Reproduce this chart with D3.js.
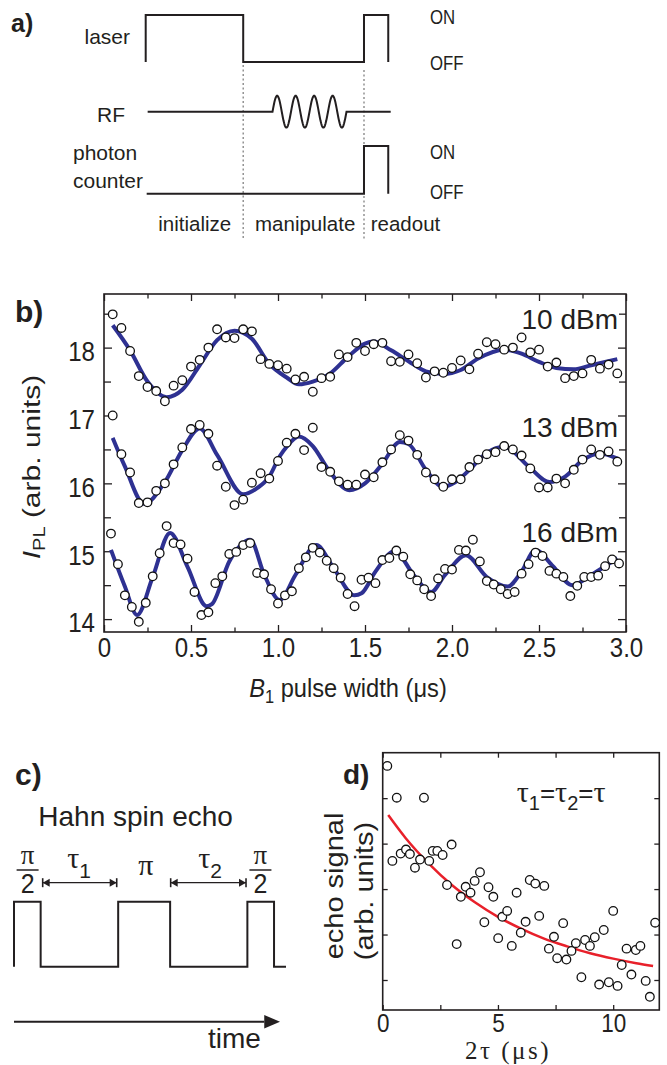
<!DOCTYPE html>
<html>
<head>
<meta charset="utf-8">
<script src="https://cdn.jsdelivr.net/npm/d3@7"></script>
<style>
  body { margin: 0; background: #fff; }
  text { font-family: Arial, "Liberation Sans", Helvetica, sans-serif; fill: #231f20; }
</style>
</head>
<body>
<script>
// ---------- panel b : Rabi oscillations ----------
var powerLabels = ['10 dBm', '13 dBm', '16 dBm'];

// pulse widths (us) of the 10 and 13 dBm runs
var pw50 = [0.05,0.1,0.15,0.2,0.25,0.3,0.35,0.4,0.45,0.5,0.55,0.6,0.65,0.7,0.75,0.8,0.85,0.9,0.95,1,
            1.05,1.1,1.15,1.2,1.25,1.3,1.35,1.4,1.45,1.5,1.55,1.6,1.65,1.7,1.75,1.8,1.85,1.9,1.95,2,
            2.05,2.1,2.15,2.2,2.25,2.3,2.35,2.4,2.45,2.5,2.55,2.6,2.65,2.7,2.75,2.8,2.85,2.9,2.95];
// pulse widths (us) of the 16 dBm run
var pw40 = [0.04,0.08,0.12,0.16,0.2,0.24,0.28,0.32,0.36,0.4,0.44,0.48,0.52,0.56,0.6,0.64,0.68,0.72,0.76,0.8,
            0.84,0.88,0.92,0.96,1,1.04,1.08,1.12,1.16,1.2,1.24,1.28,1.32,1.36,1.4,1.44,1.48,1.52,1.56,1.6,
            1.64,1.68,1.72,1.76,1.8,1.84,1.88,1.92,1.96,2,2.04,2.08,2.12,2.16,2.2,2.24,2.28,2.32,2.36,2.4,
            2.44,2.48,2.52,2.56,2.6,2.64,2.68,2.72,2.76,2.8,2.84,2.88,2.92,2.96];

var pl10 = [18.49,18.29,17.95,17.58,17.42,17.36,17.21,17.44,17.52,17.72,17.82,18.00,18.27,18.15,18.14,18.27,18.24,17.83,17.76,17.74,
            17.69,17.53,17.57,17.35,17.55,17.57,17.90,17.86,18.07,17.95,18.05,18.07,17.80,17.79,17.90,17.77,17.56,17.65,17.63,17.70,
            17.81,17.68,17.91,18.08,18.05,17.97,18.00,18.15,17.93,17.97,17.72,17.78,17.55,17.58,17.62,17.82,17.69,17.75,17.62];
var pl13 = [17.00,16.43,16.16,15.71,15.72,15.89,16.00,16.28,16.53,16.80,16.86,16.73,16.26,15.95,15.68,15.76,16.01,16.15,16.07,16.33,
            16.60,16.73,16.49,16.82,16.24,16.17,16.03,15.98,15.98,16.13,16.09,16.31,16.50,16.71,16.63,16.42,16.16,16.06,15.95,16.06,
            16.06,16.24,16.35,16.43,16.46,16.55,16.50,16.41,16.22,15.94,15.94,16.07,16.00,16.20,16.35,16.50,16.42,16.47,16.32];
var pl16 = [15.26,14.81,14.35,14.18,13.96,14.24,14.63,14.97,15.37,15.12,15.10,14.89,14.40,14.06,14.10,14.53,14.63,14.96,14.99,15.09,
            15.12,14.68,14.66,14.44,14.23,14.35,14.41,14.75,14.91,15.05,14.98,14.86,14.75,14.61,14.37,14.19,14.58,14.61,14.53,14.87,
            14.90,15.01,14.92,14.66,14.57,14.44,14.34,14.60,14.74,14.73,15.02,15.01,15.17,14.85,14.56,14.51,14.44,14.37,14.40,14.67,
            14.81,14.98,14.93,14.71,14.67,14.62,14.34,14.49,14.62,14.62,14.64,14.78,14.88,14.82];

// fitted curves
var fitX10 = [0.05,0.15,0.25,0.36,0.45,0.55,0.65,0.75,0.85,0.95,1.05,1.12,1.2,1.3,1.4,1.5,1.55,1.65,1.75,1.85,1.95,2.05,2.15,2.3,2.4,2.5,2.6,2.7,2.8,2.95];
var fitY10 = [18.33,17.96,17.50,17.27,17.38,17.74,18.11,18.25,18.13,17.76,17.56,17.46,17.50,17.62,17.86,18.06,18.09,17.96,17.80,17.65,17.61,17.67,17.84,17.97,17.91,17.79,17.70,17.68,17.74,17.83];
var fitX13 = [0.05,0.12,0.23,0.35,0.45,0.55,0.65,0.8,0.88,0.95,1.01,1.05,1.12,1.2,1.29,1.41,1.5,1.6,1.7,1.75,1.85,1.95,2.02,2.1,2.2,2.3,2.44,2.56,2.65,2.75,2.85,2.955];
var fitY13 = [16.67,16.25,15.70,16.02,16.49,16.81,16.42,15.84,15.93,16.10,16.40,16.54,16.69,16.55,16.20,15.90,16.00,16.29,16.61,16.58,16.20,15.95,16.02,16.20,16.45,16.54,16.25,16.02,16.10,16.34,16.44,16.36];
var fitX16 = [0.04,0.12,0.19,0.28,0.38,0.48,0.59,0.62,0.72,0.84,0.92,1.01,1.1,1.22,1.32,1.44,1.48,1.56,1.67,1.78,1.88,1.96,2.08,2.2,2.32,2.4,2.48,2.58,2.69,2.8,2.95];
var fitY16 = [15.02,14.48,14.06,14.62,15.27,14.77,14.19,14.22,14.85,15.17,14.66,14.28,14.65,15.09,14.75,14.35,14.38,14.70,15.00,14.65,14.40,14.65,14.94,14.62,14.48,14.70,15.02,14.78,14.50,14.65,14.90];

var bXTicks = [0, 0.5, 1, 1.5, 2, 2.5, 3];
var bXMinor = [0.25, 0.75, 1.25, 1.75, 2.25, 2.75];
var bYTicks = [14, 15, 16, 17, 18];
var bYMinor = [14.5, 15.5, 16.5, 17.5, 18.5];

// ---------- panel d : spin echo decay ----------
var echoX = [0.20,0.42,0.61,0.78,1.01,1.18,1.40,1.62,1.79,2.02,2.17,2.37,2.60,2.79,2.99,3.21,3.39,3.60,3.81,3.99,
             4.22,4.41,4.59,4.80,5.01,5.19,5.40,5.60,5.81,5.99,6.20,6.38,6.62,6.79,7.01,7.21,7.43,7.57,7.83,7.97,
             8.19,8.38,8.62,8.78,8.99,9.20,9.39,9.59,9.81,10.00,10.19,10.37,10.58,10.79,10.98,11.18,11.41,11.59,11.82];
var echoY = [5.71,3.62,5.01,3.78,3.87,3.77,3.47,3.65,5.01,3.62,3.84,3.84,3.75,3.09,3.98,1.79,2.83,3.05,2.92,3.18,
             3.37,2.27,3.04,2.83,1.92,2.39,2.52,1.75,2.92,2.04,2.28,3.20,3.12,2.41,3.07,1.69,1.95,1.48,2.25,1.45,
             1.64,1.81,1.06,1.88,1.75,1.94,0.90,2.10,0.95,2.52,0.87,1.33,1.69,1.12,1.66,1.75,0.98,0.63,2.26];
var echoFitX = [0.24,1,2,3,4,5,6,7,8,9,10,11,11.73];
var echoFitY = [4.63,4.12,3.56,3.09,2.71,2.39,2.13,1.91,1.74,1.59,1.47,1.37,1.31];

var dXTicks = [0, 5, 10];
var dXMinor = [2.5, 7.5];
var dYTicks = [1, 2, 3, 4, 5];

// ---------- pulse schemes (time in 0..100, level 0/1) ----------
var laserSteps = [[0,0],[0,1],[39.8,1],[39.8,0],[89.1,0],[89.1,1],[99,1],[99,0]];
var counterSteps = [[0.4,0],[89.1,0],[89.1,1],[99,1],[99,0]];
var phaseBorders = [39.8, 89.1];
var phaseNames = ['initialize', 'manipulate', 'readout'];
var echoSteps = [[0,0],[0,1],[9.8,1],[9.8,0],[38.3,0],[38.3,1],[57.4,1],[57.4,0],[85.8,0],[85.8,1],[95.6,1],[95.6,0],[100,0]];

var ink = '#231f20';
var fitBlue = '#2e3192';
var sans = 'Arial, "Liberation Sans", sans-serif';
var serif = '"Liberation Serif", "DejaVu Serif", serif';

var svg = d3.select('body').append('svg')
    .attr('width', 667)
    .attr('height', 1065);
svg.append('rect').attr('width', 667).attr('height', 1065).attr('fill', '#fff');

// little text helper: position, optional rotation and squeeze
function txt(g, x, y, s, o) {
  o = o || {};
  var t = g.append('text')
      .attr('transform', 'translate(' + x + ',' + y + ')' +
            (o.rot ? ' rotate(' + o.rot + ')' : '') +
            ' scale(' + (o.sx || 1) + ',' + (o.sy || 1) + ')')
      .attr('text-anchor', o.anchor || 'start')
      .style('font-size', (o.size || 21) + 'px')
      .style('font-weight', o.weight || 'normal');
  if (o.family) t.style('font-family', o.family);
  if (s !== null) t.text(s);
  return t;
}

function stepLine(g, pts, sx, sy) {
  g.append('path')
      .datum(pts)
      .attr('d', d3.line().x(function(d) { return sx(d[0]); }).y(function(d) { return sy(d[1]); }))
      .attr('fill', 'none')
      .attr('stroke', ink)
      .attr('stroke-width', 2);
}

// ================= a) =================
var ga = svg.append('g');
var aX = d3.scaleLinear().domain([0, 100]).range([145.7, 390.7]);
var laserY = d3.scaleLinear().domain([0, 1]).range([62, 15]);
var countY = d3.scaleLinear().domain([0, 1]).range([193.7, 146]);
var rfY = d3.scaleLinear().domain([-1, 1]).range([127.7, 95.7]);

txt(ga, 11, 32, 'a)', {size: 25, weight: 'bold'});

ga.selectAll('line.phase')
    .data(phaseBorders).enter()
    .append('line')
      .attr('class', 'phase')
      .attr('x1', aX).attr('x2', aX)
      .attr('y1', function(d, i) { return i ? 70 : 65; })
      .attr('y2', 240)
      .attr('stroke', '#8a8a8a')
      .attr('stroke-width', 1.4)
      .attr('stroke-dasharray', '2,2.5');

stepLine(ga, laserSteps, aX, laserY);
stepLine(ga, counterSteps, aX, countY);

// RF burst: flat, four cycles, flat
var rfPts = [[0.8, 0], [51.76, 0]];
for (var i = 1; i <= 120; i++) {
  var t = 51.76 + (81.96 - 51.76) * i / 120;
  rfPts.push([t, Math.sin(2 * Math.PI * 4 * i / 120)]);
}
rfPts.push([100, 0]);
stepLine(ga, rfPts, aX, rfY);

txt(ga, 130, 43.5, 'laser', {anchor: 'end'});
txt(ga, 125, 121.7, 'RF', {anchor: 'end'});
txt(ga, 73, 160, 'photon');
txt(ga, 73, 187.7, 'counter');
txt(ga, 430, 24.3, 'ON', {size: 20, sx: 0.84});
txt(ga, 430, 70, 'OFF', {size: 20, sx: 0.84});
txt(ga, 430, 159.3, 'ON', {size: 20, sx: 0.84});
txt(ga, 430, 199.3, 'OFF', {size: 20, sx: 0.84});

var phaseStart = [158.3, 255, 370.7];
phaseNames.forEach(function(n, i) {
  txt(ga, phaseStart[i], 231, n, {size: 20.5});
});

// ================= b) =================
var gb = svg.append('g');
var bx = d3.scaleLinear().domain([0, 3]).range([104, 626]);
var by = d3.scaleLinear().domain([13.81, 18.79]).range([632, 294]);

var series = [
  {name: powerLabels[0], x: pw50, y: pl10, fx: fitX10, fy: fitY10},
  {name: powerLabels[1], x: pw50, y: pl13, fx: fitX13, fy: fitY13},
  {name: powerLabels[2], x: pw40, y: pl16, fx: fitX16, fy: fitY16}
];

function cleanAxis(g) {
  g.select('.domain').remove();
  g.selectAll('.tick line').attr('stroke', ink).attr('stroke-width', 1.3);
}

gb.append('g').attr('transform', 'translate(0,632)')
    .call(d3.axisBottom(bx).tickValues(bXTicks).tickSize(-7).tickPadding(5)
          .tickFormat(function(d) { return d === 0 ? '0' : d.toFixed(1); }))
    .call(cleanAxis)
    .call(function(g) {
      g.selectAll('text').style('font-size', '28px').attr('fill', ink)
          .style('font-family', sans)
          .attr('transform', 'scale(0.86,1)');
    });
gb.append('g').attr('transform', 'translate(0,632)')
    .call(d3.axisBottom(bx).tickValues(bXMinor).tickSize(-4.5).tickFormat(''))
    .call(cleanAxis);
gb.append('g').attr('transform', 'translate(0,294)')
    .call(d3.axisTop(bx).tickValues(bXTicks).tickSize(-7).tickFormat(''))
    .call(cleanAxis);
gb.append('g').attr('transform', 'translate(0,294)')
    .call(d3.axisTop(bx).tickValues(bXMinor).tickSize(-4.5).tickFormat(''))
    .call(cleanAxis);

gb.append('g').attr('transform', 'translate(104,0)')
    .call(d3.axisLeft(by).tickValues(bYTicks).tickSize(-8).tickPadding(10.5).tickFormat(d3.format('d')))
    .call(cleanAxis)
    .call(function(g) {
      g.selectAll('text').style('font-size', '28px').attr('fill', ink)
          .style('font-family', sans)
          .attr('dy', '0.46em')
          .attr('transform', 'scale(0.86,1)');
    });
gb.append('g').attr('transform', 'translate(104,0)')
    .call(d3.axisLeft(by).tickValues(bYMinor).tickSize(-7).tickFormat(''))
    .call(cleanAxis);
gb.append('g').attr('transform', 'translate(626,0)')
    .call(d3.axisRight(by).tickValues(bYTicks).tickSize(-8).tickFormat(''))
    .call(cleanAxis);
gb.append('g').attr('transform', 'translate(626,0)')
    .call(d3.axisRight(by).tickValues(bYMinor).tickSize(-7).tickFormat(''))
    .call(cleanAxis);

gb.append('rect')
    .attr('x', 104).attr('y', 294)
    .attr('width', 522).attr('height', 338)
    .attr('fill', 'none').attr('stroke', ink).attr('stroke-width', 1.6);

var fitLine = d3.line()
    .x(function(d) { return bx(d[0]); })
    .y(function(d) { return by(d[1]); })
    .curve(d3.curveMonotoneX);

series.forEach(function(s) {
  gb.append('path')
      .datum(s.fx.map(function(v, i) { return [v, s.fy[i]]; }))
      .attr('d', fitLine)
      .attr('fill', 'none')
      .attr('stroke', fitBlue)
      .attr('stroke-width', 4);
});
series.forEach(function(s) {
  gb.append('g').selectAll('circle')
      .data(s.x.map(function(v, i) { return [v, s.y[i]]; })).enter()
      .append('circle')
        .attr('cx', function(d) { return bx(d[0]); })
        .attr('cy', function(d) { return by(d[1]); })
        .attr('r', 4.3)
        .attr('fill', '#fff')
        .attr('stroke', '#111')
        .attr('stroke-width', 1.3);
});

var nameAt = [18.27, 16.69, 15.14];
series.forEach(function(s, i) {
  txt(gb, 618, by(nameAt[i]), s.name, {size: 28, anchor: 'end'});
});

txt(gb, 15, 322, 'b)', {size: 30, weight: 'bold'});

var yl = txt(gb, 40, 467, null, {size: 30, rot: -90, sy: 0.82, anchor: 'middle'});
yl.append('tspan').style('font-style', 'italic').text('I');
yl.append('tspan').style('font-size', '20px').attr('dy', 6).text('PL');
yl.append('tspan').attr('dy', -6).text(' (arb. units)');

var xl = txt(gb, 348, 696.7, null, {size: 26, sx: 0.91, anchor: 'middle'});
xl.append('tspan').style('font-style', 'italic').text('B');
xl.append('tspan').style('font-size', '18px').attr('dy', 6).text('1');
xl.append('tspan').attr('dy', -6).text(' pulse width (\u03bcs)');

// ================= c) =================
var gc = svg.append('g');
var cX = d3.scaleLinear().domain([0, 100]).range([14, 286]);
var cY = d3.scaleLinear().domain([0, 1]).range([966.7, 901.7]);

txt(gc, 15, 785, 'c)', {size: 30, weight: 'bold'});
txt(gc, 38.3, 826, 'Hahn spin echo', {size: 28});
stepLine(gc, echoSteps, cX, cY);

// pi/2 fractions at both ends, pi in the middle
[5.0, 90.6].forEach(function(t) {
  var cx = cX(t);
  txt(gc, cx, 864, '\u03c0', {size: 27, family: serif, anchor: 'middle'});
  gc.append('line')
      .attr('x1', cx - 11).attr('x2', cx + 11)
      .attr('y1', 870).attr('y2', 870)
      .attr('stroke', ink).attr('stroke-width', 1.5);
  txt(gc, cx, 893.3, '2', {size: 25, anchor: 'middle', sy: 1.1});
});
txt(gc, cX(48.5), 875, '\u03c0', {size: 30, family: serif, anchor: 'middle'});

// tau intervals with bar-ended arrows
var tauSpans = [[10.55, 37.76, '1', 23.9], [57.6, 85.3, '2', 72.1]];
var arrowY = 882.7;
tauSpans.forEach(function(s) {
  var x1 = cX(s[0]), x2 = cX(s[1]);
  gc.append('line').attr('x1', x1).attr('x2', x2).attr('y1', arrowY).attr('y2', arrowY)
      .attr('stroke', ink).attr('stroke-width', 1.2);
  [x1, x2].forEach(function(x, k) {
    var dir = k ? -1 : 1;
    gc.append('line').attr('x1', x).attr('x2', x).attr('y1', arrowY - 4.5).attr('y2', arrowY + 4.5)
        .attr('stroke', ink).attr('stroke-width', 1.6);
    gc.append('path')
        .attr('d', 'M' + x + ',' + arrowY + 'L' + (x + dir * 7) + ',' + (arrowY - 4) +
                   'L' + (x + dir * 7) + ',' + (arrowY + 4) + 'Z')
        .attr('fill', ink);
  });
  var tl = txt(gc, cX(s[3]), 868.3, null, {size: 30, family: serif, anchor: 'middle'});
  tl.append('tspan').text('\u03c4');
  tl.append('tspan').style('font-family', sans)
      .style('font-size', '21px').attr('dy', 10).text(s[2]);
});

// time arrow
gc.append('line').attr('x1', cX(0)).attr('x2', cX(92)).attr('y1', 1021.7).attr('y2', 1021.7)
    .attr('stroke', ink).attr('stroke-width', 2);
gc.append('path')
    .attr('d', 'M' + cX(97.8) + ',1021.7L' + cX(92) + ',1015L' + cX(92) + ',1028.4Z')
    .attr('fill', ink);
txt(gc, cX(71.3), 1048, 'time', {size: 28});

// ================= d) =================
var gd = svg.append('g');
var dx = d3.scaleLinear().domain([0, 12]).range([382.7, 659.3]);
var dy = d3.scaleLinear().domain([0.34, 6.0]).range([1010, 752.7]);

gd.append('g').attr('transform', 'translate(0,1010)')
    .call(d3.axisBottom(dx).tickValues(dXTicks).tickSize(-5).tickPadding(4).tickFormat(d3.format('d')))
    .call(cleanAxis)
    .call(function(g) {
      g.selectAll('text').style('font-size', '25px').attr('fill', ink)
          .style('font-family', sans)
          .attr('transform', 'scale(0.9,1)');
    });
gd.append('g').attr('transform', 'translate(0,1010)')
    .call(d3.axisBottom(dx).tickValues(dXMinor).tickSize(-5).tickFormat(''))
    .call(cleanAxis);
gd.append('g').attr('transform', 'translate(0,752.7)')
    .call(d3.axisTop(dx).tickValues(dXTicks.concat(dXMinor)).tickSize(-5).tickFormat(''))
    .call(cleanAxis);
gd.append('g').attr('transform', 'translate(382.7,0)')
    .call(d3.axisLeft(dy).tickValues(dYTicks).tickSize(-5).tickFormat(''))
    .call(cleanAxis);
gd.append('g').attr('transform', 'translate(659.3,0)')
    .call(d3.axisRight(dy).tickValues(dYTicks).tickSize(-5).tickFormat(''))
    .call(cleanAxis);

gd.append('rect')
    .attr('x', 382.7).attr('y', 752.7)
    .attr('width', 276.6).attr('height', 257.3)
    .attr('fill', 'none').attr('stroke', ink).attr('stroke-width', 1.6);

gd.append('path')
    .datum(echoFitX.map(function(v, i) { return [v, echoFitY[i]]; }))
    .attr('d', d3.line()
        .x(function(d) { return dx(d[0]); })
        .y(function(d) { return dy(d[1]); })
        .curve(d3.curveMonotoneX))
    .attr('fill', 'none')
    .attr('stroke', '#e8202a')
    .attr('stroke-width', 2.5);

gd.append('g').selectAll('circle')
    .data(echoX.map(function(v, i) { return [v, echoY[i]]; })).enter()
    .append('circle')
      .attr('cx', function(d) { return dx(d[0]); })
      .attr('cy', function(d) { return dy(d[1]); })
      .attr('r', 4.3)
      .attr('fill', '#fff')
      .attr('stroke', '#111')
      .attr('stroke-width', 1.3);

txt(gd, 343, 784, 'd)', {size: 28, weight: 'bold'});

var eq = txt(gd, 516.7, 801.7, null, {size: 30, family: serif});
[['\u03c4', '1'], ['\u03c4', '2'], ['\u03c4', null]].forEach(function(p, k) {
  eq.append('tspan').text(p[0]);
  if (p[1]) {
    eq.append('tspan').style('font-family', sans)
        .style('font-size', '20px').attr('dy', 8).text(p[1]);
    eq.append('tspan').style('font-family', sans)
        .style('font-size', '26px').attr('dy', -8).text('=');
  }
});

txt(gd, 343, 886, 'echo signal', {size: 29, rot: -90, sy: 0.86, anchor: 'middle'});
txt(gd, 373, 891, '(arb. units)', {size: 29, rot: -90, sy: 0.86, anchor: 'middle'});
txt(gd, 508, 1059, '2\u03c4 (\u03bcs)', {size: 25, family: serif, anchor: 'middle'})
    .style('letter-spacing', '2.5px');
</script>
</body>
</html>
